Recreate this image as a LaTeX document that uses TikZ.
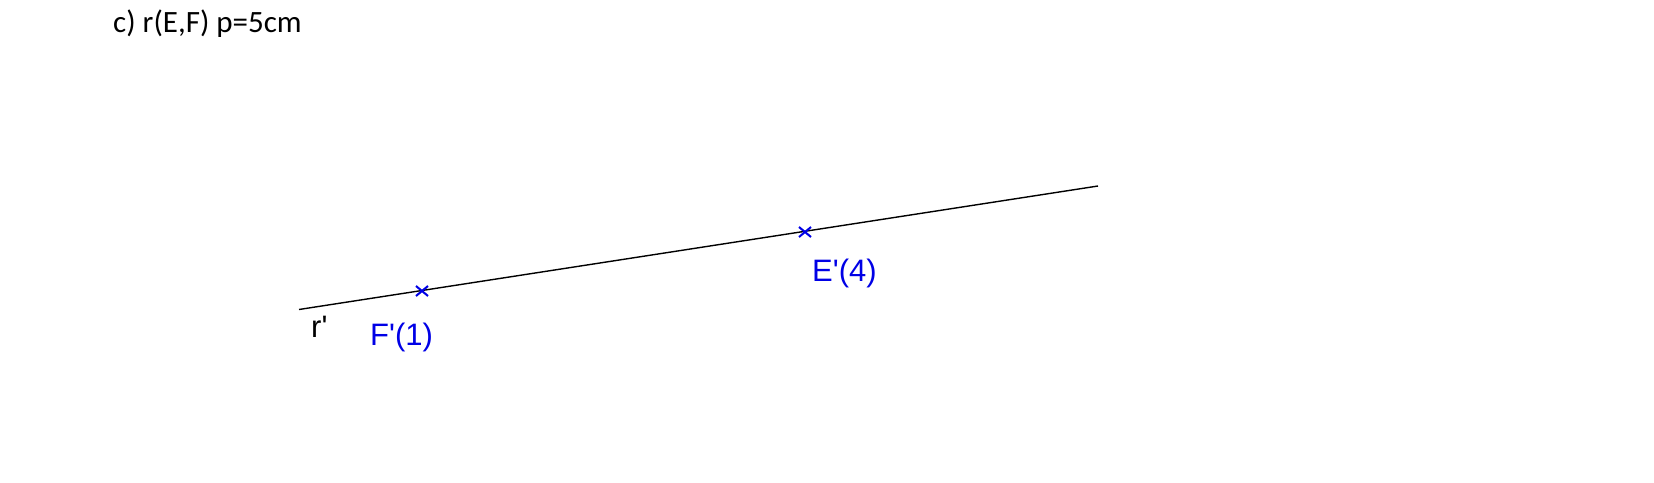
\documentclass[tikz,border=0pt]{standalone}
\usepackage{fontspec}
\usetikzlibrary{calc}
\setmainfont{Carlito}
\newfontfamily\arialfont{Liberation Sans}
\definecolor{ptblue}{RGB}{0,0,230}
\begin{document}
\begin{tikzpicture}[x=1pt,y=-1pt,
  crossmark/.style={draw=ptblue,line width=2pt},
  ptlabel/.style={anchor=base west,inner sep=0pt,text=ptblue,font=\arialfont\fontsize{31}{31}\selectfont},
  linelabel/.style={anchor=base west,inner sep=0pt,font=\arialfont\fontsize{31}{31}\selectfont}]
\useasboundingbox (0,0) rectangle (1654,482);
\node[anchor=base west,inner sep=0pt,font=\fontsize{31}{31}\selectfont] (title) at (113,32) {c) r(E,F) p=5cm};
\coordinate (A) at (299,309.5);
\coordinate (B) at (1098,186);
\draw[line width=1.4pt] (A) -- (B);
\coordinate (F) at (422,291);
\coordinate (E) at (805,232);
\draw[crossmark] ($(F)+(-6,-5)$) -- ($(F)+(6,5)$) ($(F)+(-6,5)$) -- ($(F)+(6,-5)$);
\draw[crossmark] ($(E)+(-6,-5)$) -- ($(E)+(6,5)$) ($(E)+(-6,5)$) -- ($(E)+(6,-5)$);
\node[ptlabel] (Elab) at (812,281) {E'(4)};
\node[ptlabel] (Flab) at (370,345) {F'(1)};
\node[linelabel] (rlab) at (311,337) {r'};
\end{tikzpicture}
\end{document}
